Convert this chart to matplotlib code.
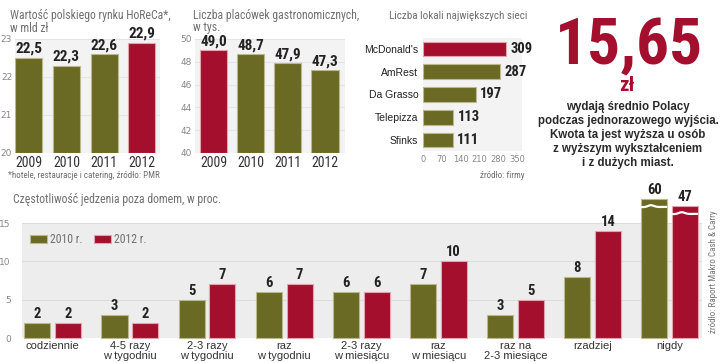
import matplotlib
matplotlib.use('Agg')
import matplotlib.pyplot as plt
import numpy as np
from matplotlib import font_manager

# ---------------- data ----------------
horeca_years = ['2009', '2010', '2011', '2012']
horeca_values = [22.5, 22.3, 22.6, 22.9]
venue_years = ['2009', '2010', '2011', '2012']
venue_values = [49.0, 48.7, 47.9, 47.3]
chain_names = ["McDonald's", 'AmRest', 'Da Grasso', 'Telepizza', 'Sfinks']
chain_counts = [309, 287, 197, 113, 111]
freq_categories = ['codziennie', '4-5 razy\nw tygodniu', '2-3 razy\nw tygodniu',
                   'raz\nw tygodniu', '2-3 razy\nw miesiącu', 'raz\nw miesiącu',
                   'raz na\n2-3 miesiące', 'rzadziej', 'nigdy']
freq_2010 = [2, 3, 5, 6, 6, 7, 3, 8, 60]
freq_2012 = [2, 2, 7, 7, 6, 10, 5, 14, 47]
headline = '15,65'
headline_unit = 'zł'
headline_text = ('wydają średnio Polacy\npodczas jednorazowego wyjścia.\n'
                 'Kwota ta jest wyższa u osób\nz wyższym wykształceniem\ni z dużych miast.')

# ---------------- style ----------------
OLIVE = '#6b6a24'
RED = '#a30f2d'
OLIVE_EDGE = '#b9b88f'
RED_EDGE = '#e2a3ae'
GRAY_TXT = '#707070'
DARK = '#222222'

names = {f.name for f in font_manager.fontManager.ttflist}
def pick(*cands):
    for c in cands:
        if c in names:
            return c
    return 'DejaVu Sans'
NARROW = pick('Liberation Sans Narrow', 'Roboto Condensed', 'Liberation Sans')
SANS = pick('Liberation Sans', 'Arial', 'DejaVu Sans')

W, H = 720, 363
fig = plt.figure(figsize=(7.2, 3.63), dpi=100)
fig.patch.set_facecolor('white')

def fx(x):
    return x / W
def fy(y):
    return 1 - y / H
def ax_px(l, t, r, b):
    return fig.add_axes([l / W, 1 - b / H, (r - l) / W, (b - t) / H])

def clean(ax, face):
    ax.set_facecolor(face)
    for s in ax.spines.values():
        s.set_visible(False)
    ax.tick_params(length=0)
    ax.set_axisbelow(True)

def fmt(v):
    return f'{v:.1f}'.replace('.', ',')

# ---------------- chart 1: HoReCa ----------------
ax1 = ax_px(15, 39, 160, 153)
clean(ax1, '#f3f3f3')
x1 = np.arange(len(horeca_years))
c1 = [RED if y == '2012' else OLIVE for y in horeca_years]
e1 = [RED_EDGE if y == '2012' else OLIVE_EDGE for y in horeca_years]
ax1.bar(x1, [v - 20 for v in horeca_values], bottom=20, width=0.72, color=c1,
        edgecolor=e1, linewidth=0.8)
ax1.set_xlim(-0.37, 3.49)
ax1.set_ylim(20, 23)
ax1.set_yticks([20, 21, 22, 23])
ax1.grid(axis='y', color='#e4e4e4', linewidth=0.8)
ax1.tick_params(axis='y', labelsize=6.5, labelcolor='#888888', pad=2)
ax1.set_xticks(x1)
ax1.set_xticklabels(horeca_years, fontsize=10, color='#333333', family=NARROW)
ax1.tick_params(axis='x', pad=2)
for xi, v in zip(x1, horeca_values):
    ax1.annotate(fmt(v), (xi, v), xytext=(0, 1.5), textcoords='offset points',
                 ha='center', va='bottom', fontsize=11, fontweight='bold',
                 family=NARROW, color=DARK, annotation_clip=False)

fig.text(fx(10), fy(15), 'Wartość polskiego rynku HoReCa*,', ha='left', va='center',
         fontsize=8.5, family=NARROW, color=GRAY_TXT)
fig.text(fx(10), fy(28), 'w mld zł', ha='left', va='center',
         fontsize=8.5, family=NARROW, color=GRAY_TXT)
fig.text(fx(8), fy(175), '*hotele, restauracje i catering, źródło: PMR', ha='left',
         va='center', fontsize=6.5, family=NARROW, color=GRAY_TXT)

# ---------------- chart 2: venues ----------------
ax2 = ax_px(195, 39, 345, 153)
clean(ax2, '#f3f3f3')
x2 = np.arange(len(venue_years))
c2 = [RED if y == '2009' else OLIVE for y in venue_years]
e2 = [RED_EDGE if y == '2009' else OLIVE_EDGE for y in venue_years]
ax2.bar(x2, [v - 40 for v in venue_values], bottom=40, width=0.73, color=c2,
        edgecolor=e2, linewidth=0.8)
ax2.set_xlim(-0.5, 3.54)
ax2.set_ylim(40, 50)
ax2.set_yticks([40, 42, 44, 46, 48, 50])
ax2.grid(axis='y', color='#e4e4e4', linewidth=0.8)
ax2.tick_params(axis='y', labelsize=6.5, labelcolor='#888888', pad=2)
ax2.set_xticks(x2)
ax2.set_xticklabels(venue_years, fontsize=10, color='#333333', family=NARROW)
ax2.tick_params(axis='x', pad=2)
for xi, v in zip(x2, venue_values):
    ax2.annotate(fmt(v), (xi, v), xytext=(0, 1), textcoords='offset points',
                 ha='center', va='bottom', fontsize=11, fontweight='bold',
                 family=NARROW, color=DARK, annotation_clip=False)

fig.text(fx(193), fy(15), 'Liczba placówek gastronomicznych,', ha='left', va='center',
         fontsize=8.5, family=NARROW, color=GRAY_TXT)
fig.text(fx(193), fy(27.5), 'w tys.', ha='left', va='center',
         fontsize=8.5, family=NARROW, color=GRAY_TXT)

# ---------------- chart 3: chains ----------------
ax3 = ax_px(423, 38, 522, 151)
clean(ax3, '#f3f3f3')
y3 = np.arange(len(chain_names))
c3 = [RED if n == "McDonald's" else OLIVE for n in chain_names]
e3 = [RED_EDGE if n == "McDonald's" else OLIVE_EDGE for n in chain_names]
ax3.barh(y3, chain_counts, height=0.65, color=c3, edgecolor=e3, linewidth=0.8)
ax3.set_xlim(0, 368)
ax3.set_ylim(4.48, -0.48)
ax3.set_yticks(y3)
ax3.set_yticklabels(chain_names, fontsize=7.5, family=SANS, color=DARK)
ax3.tick_params(axis='y', pad=3.4)
ax3.set_xticks([0, 70, 140, 210, 280, 350])
ax3.tick_params(axis='x', labelsize=6, labelcolor='#888888', pad=3)
for yi, v in zip(y3, chain_counts):
    ax3.annotate(str(v), (v, yi), xytext=(3, 0), textcoords='offset points',
                 ha='left', va='center', fontsize=10.5, fontweight='bold',
                 family=NARROW, color=DARK, annotation_clip=False)

fig.text(fx(389), fy(16), 'Liczba lokali największych sieci', ha='left', va='center',
         fontsize=8, family=NARROW, color=GRAY_TXT)
fig.text(fx(525), fy(175), 'źródło: firmy', ha='right', va='center',
         fontsize=6.5, family=NARROW, color=GRAY_TXT)

# ---------------- headline panel ----------------
fig.text(fx(629), fy(64), headline, ha='center', va='baseline', fontsize=47,
         fontweight='bold', family=NARROW, color=RED)
fig.text(fx(627), fy(91), headline_unit, ha='center', va='baseline', fontsize=15,
         fontweight='bold', family=NARROW, color=RED)
fig.text(fx(628), fy(135), headline_text, ha='center', va='center', ma='center',
         fontsize=8.3, fontweight='bold', family=SANS, color='#2a2a2a', linespacing=1.2)

# ---------------- chart 4: frequency ----------------
ax4 = ax_px(22, 223, 702, 338)
clean(ax4, '#ededed')
x4 = np.arange(len(freq_categories))
BREAK = 15
def shown(v):
    return v if v <= BREAK else BREAK + (v - BREAK) * 0.07
s10 = [shown(v) for v in freq_2010]
s12 = [shown(v) for v in freq_2012]
off, bw = 0.2, 0.338
b10 = ax4.bar(x4 - off, s10, width=bw, color=OLIVE, edgecolor=OLIVE_EDGE, linewidth=0.8,
              clip_on=False)
b12 = ax4.bar(x4 + off, s12, width=bw, color=RED, edgecolor=RED_EDGE, linewidth=0.8,
              clip_on=False)
ax4.set_xlim(-0.4, 8.42)
ax4.set_ylim(0, 15)
ax4.set_yticks([0, 5, 10, 15])
ax4.grid(axis='y', color='#dcdcdc', linewidth=0.8)
ax4.tick_params(axis='y', labelsize=6.5, labelcolor='#888888', pad=8)
ax4.set_xticks(x4)
ax4.set_xticklabels(freq_categories, fontsize=8, family=SANS, color='#333333',
                    linespacing=0.95)
ax4.tick_params(axis='x', pad=2.5)

for xs, vals, disp in ((x4 - off, freq_2010, s10), (x4 + off, freq_2012, s12)):
    for xi, v, d in zip(xs, vals, disp):
        ax4.annotate(str(v), (xi, d), xytext=(0, 1.5), textcoords='offset points',
                     ha='center', va='bottom', fontsize=10.5, fontweight='bold',
                     family=NARROW, color=DARK, annotation_clip=False)
        if v > BREAK:
            t = np.linspace(0, 1, 40)
            wx = xi - bw / 2 + t * bw
            wy = d - 1.05 + 0.22 * np.sin(2 * np.pi * (t - 0.15)) * np.exp(-((t - 0.35) ** 2) / 0.05)
            ax4.plot(wx, wy, color='white', linewidth=1.6, clip_on=False,
                     solid_capstyle='butt')

leg = ax4.legend([b10, b12], ['2010 r.', '2012 r.'], loc='upper left',
                 bbox_to_anchor=(0.0118, 0.913), ncol=2, frameon=False,
                 prop={'family': NARROW, 'size': 8.5}, handlelength=1.44,
                 handleheight=0.76, handletextpad=0.25, columnspacing=0.95,
                 borderpad=0, borderaxespad=0)
for t in leg.get_texts():
    t.set_color(GRAY_TXT)

fig.text(fx(13), fy(200), 'Częstotliwość jedzenia poza domem, w proc.', ha='left',
         va='center', fontsize=8.5, family=NARROW, color=GRAY_TXT)
fig.text(fx(713), fy(272), 'źródło: Raport Makro Cash & Carry', ha='center', va='center',
         rotation=90, fontsize=6.5, family=NARROW, color='#777777')

fig.savefig('out.png', dpi=100)
